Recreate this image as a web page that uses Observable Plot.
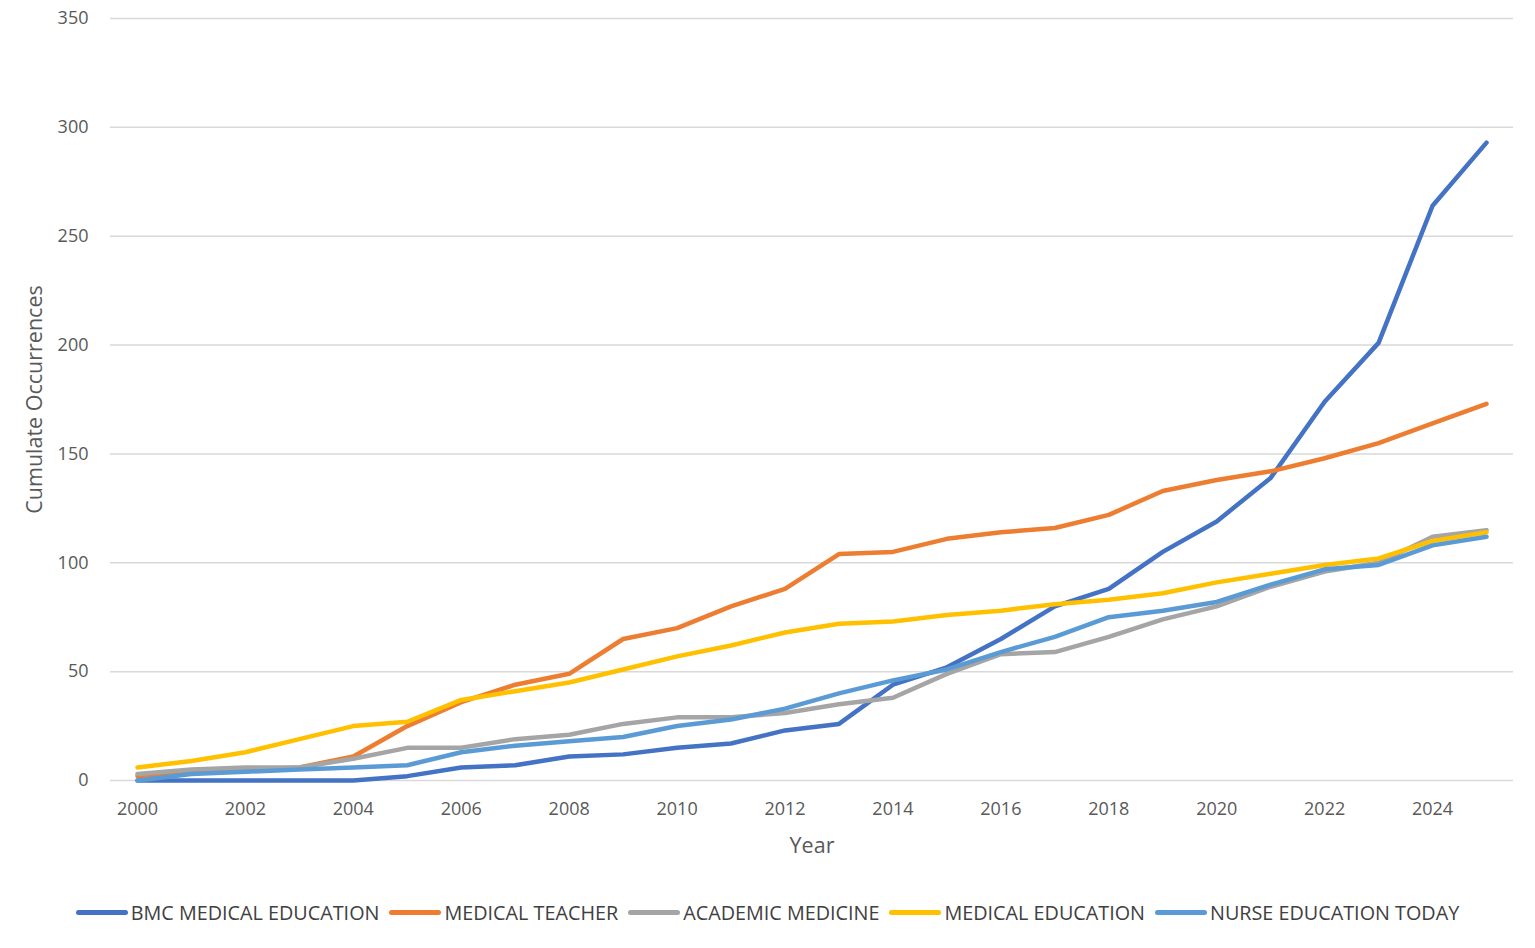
<!DOCTYPE html>
<html>
<head>
<meta charset="utf-8">
<script src="https://cdn.jsdelivr.net/npm/d3@7"></script>
<script src="https://cdn.jsdelivr.net/npm/@observablehq/plot@0.6"></script>
<style>
  html, body { margin: 0; padding: 0; background: #fff; }
  body { width: 1535px; height: 948px; overflow: hidden; font-family: "Open Sans", sans-serif; }
  #chart svg { display: block; }
  #legend { display: flex; justify-content: center; align-items: center; margin-top: 29px; color: #404040;
            font-family: "Open Sans", sans-serif; font-size: 19.8px; }
  .item { display: flex; align-items: center; margin: 0 5px; }
  .swatch { width: 52px; height: 5px; border-radius: 3px; margin-right: 3px; }
</style>
</head>
<body>
<div id="chart"></div>
<div id="legend"></div>
<script>
const years = [2000,2001,2002,2003,2004,2005,2006,2007,2008,2009,2010,2011,2012,2013,2014,2015,2016,2017,2018,2019,2020,2021,2022,2023,2024,2025];
const seriesNames = ["BMC MEDICAL EDUCATION","MEDICAL TEACHER","ACADEMIC MEDICINE","MEDICAL EDUCATION","NURSE EDUCATION TODAY"];
const seriesColors = ["#4472C4","#ED7D31","#A5A5A5","#FFC000","#5B9BD5"];
const bmcMedicalEducation  = [0,0,0,0,0,2,6,7,11,12,15,17,23,26,44,52,65,80,88,105,119,139,174,201,264,293];
const medicalTeacher       = [2,4,5,6,11,25,36,44,49,65,70,80,88,104,105,111,114,116,122,133,138,142,148,155,164,173];
const academicMedicine     = [3,5,6,6,10,15,15,19,21,26,29,29,31,35,38,49,58,59,66,74,80,89,96,100,112,115];
const medicalEducation     = [6,9,13,19,25,27,37,41,45,51,57,62,68,72,73,76,78,81,83,86,91,95,99,102,110,114];
const nurseEducationToday  = [0,3,4,5,6,7,13,16,18,20,25,28,33,40,46,51,59,66,75,78,82,90,97,99,108,112];
const xTicks = [2000,2002,2004,2006,2008,2010,2012,2014,2016,2018,2020,2022,2024];
const yTicks = [0,50,100,150,200,250,300,350];
const yLabel = "Cumulate Occurrences";
const xLabel = "Year";

const allSeries = [bmcMedicalEducation, medicalTeacher, academicMedicine, medicalEducation, nurseEducationToday];
const rows = [];
allSeries.forEach((vals, i) => vals.forEach((v, j) => rows.push({series: seriesNames[i], year: years[j], value: v})));

const chart = Plot.plot({
  width: 1535,
  height: 870,
  marginLeft: 110,
  marginRight: 22,
  marginTop: 18,
  marginBottom: 90,
  style: { color: "#595959", fontFamily: "Open Sans, sans-serif", background: "#fff" },
  x: { type: "linear", domain: [1999.5, 2025.5] },
  y: { domain: [0, 350] },
  color: { domain: seriesNames, range: seriesColors },
  marks: [
    Plot.gridY(yTicks, { stroke: "#d9d9d9", strokeOpacity: 1, strokeWidth: 1.5 }),
    Plot.axisY(yTicks, { tickSize: 0, tickPadding: 22, fontSize: 18, label: null }),
    Plot.axisX(xTicks, { tickSize: 0, tickPadding: 22, fontSize: 18, label: null, tickFormat: d => String(d) }),
    Plot.lineY(rows, { x: "year", y: "value", z: "series", stroke: "series", strokeWidth: 4.5,
                       strokeLinejoin: "round", strokeLinecap: "round" }),
    Plot.text([yLabel], { text: d => d, frameAnchor: "left", textAnchor: "middle", dx: -75, rotate: -90, fontSize: 21.5,
                          fill: "#595959", fontFamily: "Open Sans, sans-serif" }),
    Plot.text([xLabel], { text: d => d, frameAnchor: "bottom", textAnchor: "middle", dy: 72, fontSize: 21.5,
                          fill: "#595959", fontFamily: "Open Sans, sans-serif" })
  ]
});
document.getElementById("chart").appendChild(chart);

const legend = document.getElementById("legend");
seriesNames.forEach((name, i) => {
  const item = document.createElement("div");
  item.className = "item";
  const sw = document.createElement("span");
  sw.className = "swatch";
  sw.style.background = seriesColors[i];
  const t = document.createElement("span");
  t.textContent = name;
  item.appendChild(sw);
  item.appendChild(t);
  legend.appendChild(item);
});
</script>
</body>
</html>
